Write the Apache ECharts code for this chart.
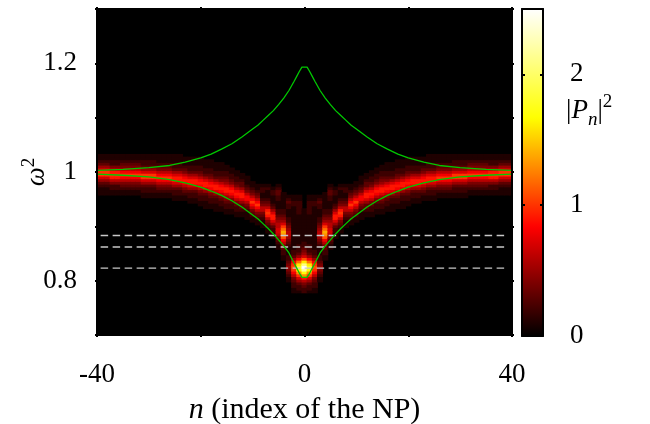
<!DOCTYPE html>
<html><head><meta charset="utf-8">
<script src="https://cdn.jsdelivr.net/npm/echarts@6/dist/echarts.min.js"></script>
<style>html,body{margin:0;padding:0;background:#fff}#c{width:650px;height:424px}</style>
</head><body><div id="c"></div>
<script>
// ---------------- DATA ----------------
// NP index n (columns of the map)
const nValues = [-40,-39,-38,-37,-36,-35,-34,-33,-32,-31,-30,-29,-28,-27,-26,-25,-24,-23,-22,-21,
  -20,-19,-18,-17,-16,-15,-14,-13,-12,-11,-10,-9,-8,-7,-6,-5,-4,-3,-2,-1,0,
  1,2,3,4,5,6,7,8,9,10,11,12,13,14,15,16,17,18,19,20,
  21,22,23,24,25,26,27,28,29,30,31,32,33,34,35,36,37,38,39,40];
// omega^2 grid step of the map rows
const omega2Step = 0.005;
// intensity codes: '0'..'9','a'..'p'  ->  0.0 .. 2.5  (|P_n|^2, step 0.1)
const LEVELS = '0123456789abcdefghijklmnop';
// column profiles: [omega^2 of first listed row, intensity codes going up in omega^2]
const prof40 = [0.960, '11123 57aa7 53211'];
const prof37 = [0.960, '11224 69a96 42211'];
const prof35 = [0.960, '11234 68a86 43211'];
const prof31 = [0.955, '11223 57aa7 53221 1'];
const prof28 = [0.955, '11234 68a86 43211 1'];
const prof25 = [0.950, '11223 57997 53221 11'];
const prof23 = [0.950, '11234 68986 43211 1'];
const prof22 = [0.945, '11223 57997 53221 11'];
const prof20 = [0.940, '11223 46898 64322 111'];
const prof19 = [0.935, '11122 35799 75322 111'];
const prof18 = [0.935, '11223 46898 64322 111'];
const prof17 = [0.930, '11122 35799 75322 111'];
const prof16 = [0.930, '11223 46898 64322 111'];
const prof15 = [0.925, '11223 45799 75432 211'];
const prof14 = [0.925, '11223 46898 64322 11'];
const prof13 = [0.920, '11223 46898 64322 11'];
const prof12 = [0.920, '11233 57997 53321 1'];
const prof11 = [0.915, '11123 46886 43211 1'];
const prof10 = [0.910, '11234 68a86 43211'];
const prof9  = [0.905, '11234 68a86 43211'];
const prof8  = [0.900, '11123 46643 21122 1'];
const prof7  = [0.890, '11234 69a96 43211 121'];
const prof6  = [0.880, '11223 57997 53211 1221'];
const prof5  = [0.860, '11234 67766 54322 11122 3321'];
const prof4  = [0.840, '11223 468bd eca75 43221 11111'];
const prof3  = [0.800, '11234 54322 11123 45665 43221 11223 21'];
const prof2  = [0.780, '11223 468ab a8532 21111 11111 11111 11221 1'];
const prof1  = [0.780, '12235 7adhi gc853 22211 11111 11112 22221 1'];
const prof0  = [0.780, '22346 9dhmp lgb75 43221 11111 11111 1'];
// one profile per entry of nValues
const columnProfiles = [
  prof40,prof40,prof40,prof37,prof37,prof35,prof35,prof35,prof35,prof31,prof31,prof31,prof28,prof28,prof28,
  prof25,prof25,prof23,prof22,prof22,prof20,prof19,prof18,prof17,prof16,prof15,prof14,prof13,prof12,prof11,
  prof10,prof9,prof8,prof7,prof6,prof5,prof4,prof3,prof2,prof1,prof0,
  prof1,prof2,prof3,prof4,prof5,prof6,prof7,prof8,prof9,prof10,
  prof11,prof12,prof13,prof14,prof15,prof16,prof17,prof18,prof19,prof20,
  prof22,prof22,prof23,prof25,prof25,prof28,prof28,prof28,prof31,prof31,prof31,
  prof35,prof35,prof35,prof35,prof37,prof37,prof40,prof40,prof40];

// green band-edge curves
const nCurve = [-40,-35,-30,-26,-23,-20,-18,-16,-14,-12,-10,-9,-8,-7,-6,-5,-4,-3,-2,-1.5,-1,-0.5,
  0.5,1,1.5,2,3,4,5,6,7,8,9,10,12,14,16,18,20,23,26,30,35,40];
const upperCurve = [1.003,1.005,1.008,1.012,1.018,1.026,1.033,1.042,1.052,1.065,1.079,1.086,1.095,1.104,1.113,1.124,1.136,1.150,1.167,1.176,1.185,1.193,
  1.193,1.185,1.176,1.167,1.150,1.136,1.124,1.113,1.104,1.095,1.086,1.079,1.065,1.052,1.042,1.033,1.026,1.018,1.012,1.008,1.005,1.003];
const lowerCurve = [0.996,0.994,0.991,0.986,0.980,0.972,0.965,0.957,0.947,0.935,0.921,0.914,0.905,0.896,0.886,0.875,0.864,0.851,0.832,0.823,0.814,0.806,
  0.806,0.814,0.823,0.832,0.851,0.864,0.875,0.886,0.896,0.905,0.914,0.921,0.935,0.947,0.957,0.965,0.972,0.980,0.986,0.991,0.994,0.996];

// dashed reference levels
const dashLevels = [0.883, 0.862, 0.823];
const dashSpan = [-39.3, 38.8];

// tick labels
const xLabelValues = [-40, 0, 40];
const xLabelTexts = ['-40', '0', '40'];
const yLabelValues = [0.8, 1.0, 1.2];
const yLabelTexts = ['0.8', '1', '1.2'];
const cbLabelValues = [0, 1, 2];
const cbLabelTexts = ['0', '1', '2'];
const cbMax = 2.5;

// ---------------- BUILD ----------------
const heatData = [];
nValues.forEach((n, i) => {
  const start = columnProfiles[i][0];
  const codes = columnProfiles[i][1].replace(/\s+/g, '');
  for (let k = 0; k < codes.length; k++) {
    heatData.push([n, +(start + k * omega2Step).toFixed(4), LEVELS.indexOf(codes[k]) / 10]);
  }
});
function pickLabel(vals, texts) {
  return function (v) {
    for (let i = 0; i < vals.length; i++) if (Math.abs(v - vals[i]) < 1e-6) return texts[i];
    return '';
  };
}
const FONT = 'Liberation Serif';
const frameLine = { show: true, onZero: false, lineStyle: { color: '#000', width: 2 } };
const noSplit = { show: false };
const outTick = { show: true, inside: false, length: 2, lineStyle: { color: '#000', width: 2 } };
const inTick = { show: true, inside: true, length: 3, lineStyle: { color: '#000', width: 2 } };

const chart = echarts.init(document.getElementById('c'), null, { renderer: 'canvas' });
chart.setOption({
  animation: false,
  backgroundColor: '#fff',
  title: {
    left: 566, top: 93, padding: 0,
    text: '|{i|P}{sub|n}|{sup|2}',
    textStyle: {
      fontFamily: FONT, fontSize: 27, fontWeight: 'normal', color: '#000', lineHeight: 36,
      rich: {
        i: { fontFamily: FONT, fontSize: 27, fontStyle: 'italic', color: '#000', lineHeight: 36 },
        sub: { fontFamily: FONT, fontSize: 19, fontStyle: 'italic', color: '#000', lineHeight: 19, verticalAlign: 'bottom' },
        sup: { fontFamily: FONT, fontSize: 19, color: '#000', lineHeight: 19, verticalAlign: 'top' }
      }
    }
  },
  grid: [
    { left: 97, top: 9, width: 415, height: 326, show: true, backgroundColor: '#000', borderWidth: 0, containLabel: false, outerBoundsMode: 'none' },
    { left: 522, top: 9, width: 21, height: 327, show: false, containLabel: false, outerBoundsMode: 'none' }
  ],
  xAxis: [
    { type: 'value', gridIndex: 0, position: 'bottom', min: -40, max: 40, interval: 20,
      axisLine: frameLine, axisTick: outTick, splitLine: noSplit,
      axisLabel: { show: true, margin: 26, fontFamily: FONT, fontSize: 27, color: '#000', formatter: pickLabel(xLabelValues, xLabelTexts) },
      name: '{i|n} (index of the NP)', nameLocation: 'middle', nameGap: 60, nameMoveOverlap: false,
      nameTextStyle: { fontFamily: FONT, fontSize: 30, color: '#000',
        rich: { i: { fontFamily: FONT, fontSize: 30, fontStyle: 'italic', color: '#000' } } },
      z: 10 },
    { type: 'value', gridIndex: 0, position: 'top', min: -40, max: 40, interval: 20,
      axisLine: frameLine, axisTick: outTick, splitLine: noSplit, axisLabel: { show: false }, z: 10 },
    { type: 'value', gridIndex: 1, position: 'bottom', min: 0, max: 1,
      axisLine: frameLine, axisTick: { show: false }, splitLine: noSplit, axisLabel: { show: false }, z: 10, zlevel: 1 },
    { type: 'value', gridIndex: 1, position: 'top', min: 0, max: 1,
      axisLine: frameLine, axisTick: { show: false }, splitLine: noSplit, axisLabel: { show: false }, z: 10, zlevel: 1 }
  ],
  yAxis: [
    { type: 'value', gridIndex: 0, position: 'left', min: 0.7, max: 1.3, interval: 0.1,
      axisLine: frameLine, axisTick: outTick, splitLine: noSplit,
      axisLabel: { show: true, margin: 20, fontFamily: FONT, fontSize: 27, color: '#000', formatter: pickLabel(yLabelValues, yLabelTexts) },
      name: '{i|ω}{sup|2}', nameLocation: 'middle', nameGap: 43, nameRotate: 90, nameMoveOverlap: false,
      nameTextStyle: { fontFamily: FONT, fontSize: 27, color: '#000', lineHeight: 34,
        rich: { i: { fontFamily: FONT, fontSize: 27, fontStyle: 'italic', color: '#000', lineHeight: 34 },
                sup: { fontFamily: FONT, fontSize: 19, color: '#000', lineHeight: 19, verticalAlign: 'top' } } },
      z: 10 },
    { type: 'value', gridIndex: 0, position: 'right', min: 0.7, max: 1.3, interval: 0.1,
      axisLine: frameLine, axisTick: outTick, splitLine: noSplit, axisLabel: { show: false }, z: 10 },
    { type: 'value', gridIndex: 1, position: 'left', min: 0, max: cbMax, interval: 1,
      axisLine: frameLine, axisTick: inTick, splitLine: noSplit, axisLabel: { show: false }, z: 10, zlevel: 1 },
    { type: 'value', gridIndex: 1, position: 'right', min: 0, max: cbMax, interval: 1,
      axisLine: frameLine, axisTick: inTick, splitLine: noSplit,
      axisLabel: { show: true, inside: false, margin: 27, fontFamily: FONT, fontSize: 27, color: '#000', formatter: pickLabel(cbLabelValues, cbLabelTexts) },
      z: 10, zlevel: 1 }
  ],
  visualMap: {
    type: 'continuous', min: 0, max: cbMax, dimension: 2, seriesIndex: 0, z: 0,
    inRange: { color: ['#000000', '#ff0000', '#ffff00', '#ffffff'] },
    orient: 'vertical', left: 522, top: 9, itemWidth: 21, itemHeight: 327,
    calculable: false, hoverLink: false, realtime: false, padding: 0, text: null, showLabel: false
  },
  series: [
    { type: 'custom', xAxisIndex: 0, yAxisIndex: 0, data: heatData,
      encode: { x: 0, y: 1 }, dimensions: ['n', 'w2', 'P'], silent: true, z: 1,
      renderItem: function (params, api) {
        const n = api.value(0), w = api.value(1);
        const a = api.coord([n - 0.5, w + omega2Step / 2]);
        const b = api.coord([n + 0.5, w - omega2Step / 2]);
        const cs = params.coordSys;
        const shape = echarts.graphic.clipRectByRect(
          { x: a[0] - 0.4, y: a[1] - 0.4, width: b[0] - a[0] + 0.8, height: b[1] - a[1] + 0.8 },
          { x: cs.x, y: cs.y, width: cs.width, height: cs.height });
        if (!shape) return null;
        return { type: 'rect', shape: shape, style: { fill: api.visual('color'), stroke: null } };
      } }
  ].concat(dashLevels.map(function (lv) {
    return { type: 'line', xAxisIndex: 0, yAxisIndex: 0, silent: true, z: 3,
      data: [[dashSpan[0], lv], [dashSpan[1], lv]], showSymbol: false, symbol: 'none',
      lineStyle: { color: '#c8c8c8', width: 1.4, type: [7.5, 4.5] } };
  })).concat([
    { type: 'line', xAxisIndex: 0, yAxisIndex: 0, silent: true, z: 4, symbol: 'none', showSymbol: false,
      data: nCurve.map(function (n, i) { return [n, upperCurve[i]]; }),
      lineStyle: { color: '#00c800', width: 1.3 } },
    { type: 'line', xAxisIndex: 0, yAxisIndex: 0, silent: true, z: 4, symbol: 'none', showSymbol: false,
      data: nCurve.map(function (n, i) { return [n, lowerCurve[i]]; }),
      lineStyle: { color: '#00c800', width: 1.3 } }
  ])
});
</script>
</body></html>
